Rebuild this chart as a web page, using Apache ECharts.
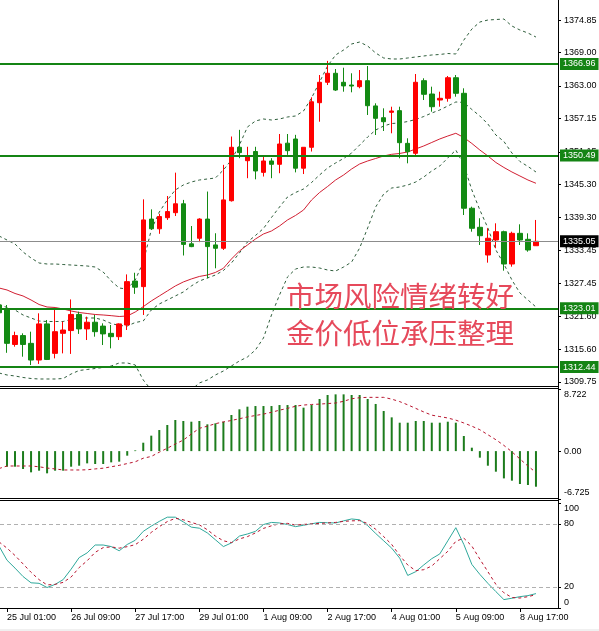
<!DOCTYPE html>
<html><head><meta charset="utf-8">
<script src="https://cdn.jsdelivr.net/npm/echarts@6/dist/echarts.min.js"></script>
<style>html,body{margin:0;padding:0;background:#f0f0f0;}#c{width:599px;height:629px;background:#fff;}</style>
</head><body><div id="c"></div>
<script>
// ---- data (bar index starts at -1; index 0 = 25 Jul 01:00, H4 bars) ----
const firstIndex = -1;
const tickLabels = ['25 Jul 01:00','26 Jul 09:00','27 Jul 17:00','29 Jul 01:00','1 Aug 09:00','2 Aug 17:00','4 Aug 01:00','5 Aug 09:00','8 Aug 17:00'];
const tickIndex = [0,8,16,24,32,40,48,56,64];
const priceTicks = [1309.75,1315.60,1321.60,1327.45,1333.45,1339.30,1345.30,1351.15,1357.15,1363.00,1369.00,1374.85];
const macdTicks = [-6.725,0,8.722];
const stochTicks = [0,20,80,100];
const levels = [1366.96,1350.49,1323.01,1312.44];
const lastPrice = 1335.05;

const open  = [1323.6,1322.7,1316.5,1318.1,1316.7,1313.7,1320.2,1314.9,1318.5,1319.0,1321.9,1319.3,1320.5,1319.8,1318.5,1317.9,1320.0,1327.9,1326.9,1339.05,1337.3,1339.3,1340.2,1341.8,1334.6,1335.6,1339.05,1334.4,1333.8,1342.35,1351.96,1349.55,1351.2,1347.45,1349.5,1348.9,1352.7,1353.45,1348.2,1351.96,1359.98,1363.65,1365.27,1363.65,1363.16,1362.86,1363.94,1359.4,1357.28,1358.25,1358.55,1352.67,1350.88,1363.94,1361.54,1360.46,1360.77,1364.47,1361.67,1341.0,1337.57,1332.59,1335.29,1336.78,1330.97,1336.49,1335.41,1334.26];
const close = [1322.2,1316.7,1318.1,1316.5,1313.7,1320.2,1313.8,1318.8,1319.1,1321.9,1319.3,1320.5,1318.8,1318.4,1317.9,1320.2,1327.8,1326.8,1338.9,1337.3,1339.5,1340.4,1341.8,1334.5,1334.1,1339.05,1334.1,1333.8,1342.5,1351.96,1351.0,1350.45,1347.7,1349.5,1348.9,1352.55,1351.35,1348.2,1351.96,1360.15,1363.65,1365.27,1362.26,1363.0,1362.98,1363.94,1359.44,1357.17,1356.56,1358.49,1352.79,1351.17,1363.65,1361.49,1359.26,1360.77,1364.47,1361.67,1341.0,1337.39,1336.06,1335.6,1336.78,1330.97,1336.49,1335.29,1333.49,1335.05];
const low   = [1321.8,1315.0,1316.1,1314.3,1312.8,1313.0,1313.7,1314.0,1314.9,1314.8,1318.4,1317.3,1317.9,1316.4,1315.8,1317.3,1319.1,1325.6,1321.8,1337.1,1336.4,1338.9,1339.6,1332.5,1334.0,1334.9,1328.4,1330.2,1333.5,1342.2,1350.0,1346.4,1346.2,1346.7,1346.4,1347.3,1350.6,1347.45,1347.15,1351.2,1356.56,1363.16,1362.1,1361.96,1361.85,1362.57,1357.77,1354.17,1354.89,1354.48,1349.98,1349.08,1350.58,1360.46,1358.36,1359.26,1360.16,1361.06,1339.78,1336.78,1334.39,1331.21,1333.8,1329.77,1330.49,1334.39,1333.18,1334.26];
const high  = [1324.2,1323.6,1318.8,1318.5,1318.8,1322.1,1320.9,1322.7,1320.6,1324.6,1322.4,1321.5,1321.8,1320.3,1320.0,1320.3,1329.1,1329.4,1342.6,1340.8,1340.0,1343.2,1347.4,1342.5,1337.8,1339.2,1344.0,1336.5,1348.8,1353.9,1355.1,1352.05,1352.05,1350.3,1350.0,1354.35,1354.35,1354.2,1352.0,1360.95,1364.96,1367.5,1366.04,1366.27,1365.27,1365.86,1366.58,1359.87,1358.97,1359.26,1359.26,1353.58,1365.14,1364.37,1362.86,1361.96,1364.78,1364.96,1362.57,1341.28,1339.2,1337.39,1338.29,1336.96,1336.78,1338.11,1336.49,1338.89];

const bbUpper = [1336.01,1335.29,1334.57,1333.13,1332.05,1331.15,1330.97,1330.97,1330.88,1330.79,1330.70,1330.61,1330.43,1329.53,1327.91,1326.65,1326.47,1328.09,1331.33,1337.09,1340.32,1342.48,1344.28,1345.18,1345.72,1346.08,1346.26,1346.44,1347.88,1349.67,1352.37,1355.61,1356.69,1357.05,1356.87,1357.05,1357.41,1357.59,1358.49,1360.82,1363.70,1366.58,1368.56,1369.46,1370.54,1370.89,1370.17,1368.92,1368.02,1367.84,1367.84,1368.02,1368.20,1368.38,1368.56,1368.65,1368.83,1368.74,1371.25,1373.23,1374.49,1374.85,1374.94,1375.03,1373.77,1373.05,1372.51,1371.79];
const bbMiddle = [1323.69,1323.15,1322.70,1321.80,1321.26,1320.72,1320.63,1320.63,1320.63,1320.99,1321.26,1321.26,1321.26,1320.90,1320.27,1319.91,1319.82,1320.45,1320.72,1322.70,1323.78,1324.50,1325.22,1325.94,1327.02,1327.91,1328.45,1328.99,1329.80,1331.15,1332.95,1334.93,1336.10,1337.36,1339.34,1341.22,1343.02,1343.83,1344.46,1345.63,1346.98,1348.24,1349.14,1349.95,1350.93,1352.37,1353.81,1355.07,1355.79,1356.24,1356.33,1356.60,1356.96,1357.50,1358.13,1358.67,1359.39,1360.11,1360.02,1358.76,1357.59,1356.15,1354.17,1353.01,1350.93,1349.41,1348.51,1347.52];
const bbLower = [1311.37,1311.01,1310.83,1310.56,1310.38,1310.29,1310.29,1310.29,1310.38,1311.19,1311.82,1312.00,1312.18,1312.36,1312.63,1313.17,1313.17,1312.81,1310.11,1308.32,1307.06,1306.52,1306.34,1306.70,1308.32,1309.58,1310.11,1311.01,1311.73,1312.63,1313.53,1314.25,1315.51,1317.67,1321.80,1325.40,1328.64,1330.07,1330.43,1330.43,1330.25,1329.89,1329.71,1330.43,1331.33,1333.85,1337.45,1341.22,1343.56,1344.64,1344.82,1345.18,1345.72,1346.62,1347.70,1348.60,1350.04,1351.47,1348.78,1344.28,1340.68,1337.45,1333.49,1330.97,1328.09,1325.76,1324.50,1323.24];
const maRed = [1326.66,1326.30,1325.67,1325.22,1324.50,1323.69,1323.24,1323.15,1322.88,1322.52,1322.25,1322.07,1321.89,1321.80,1321.68,1321.53,1321.62,1322.34,1323.30,1324.32,1325.22,1326.12,1327.02,1327.74,1328.28,1328.73,1328.99,1329.45,1330.20,1331.87,1333.31,1334.39,1335.47,1336.37,1336.91,1337.81,1338.89,1339.70,1340.68,1342.48,1343.83,1344.91,1346.08,1346.98,1348.06,1348.96,1349.50,1349.95,1350.40,1350.70,1350.85,1351.12,1351.66,1352.20,1352.83,1353.46,1353.99,1354.48,1353.72,1352.65,1351.47,1350.40,1349.23,1348.33,1347.52,1346.80,1346.08,1345.49];

const macdHist = [-2.2,-2.19,-2.19,-2.51,-2.98,-2.75,-3.12,-2.75,-2.75,-2.19,-2.05,-1.72,-1.81,-1.81,-1.58,-1.48,-0.64,0.1,1.18,2.17,2.96,3.67,4.37,4.23,4.13,4.23,3.76,3.90,4.13,5.07,5.87,6.24,6.33,6.33,6.33,6.47,6.47,6.47,6.10,6.47,7.32,7.88,7.97,7.97,7.88,7.88,7.32,6.62,5.63,4.74,3.99,3.99,4.23,4.23,3.99,3.99,4.13,3.99,2.12,0.48,-0.92,-2.05,-2.89,-3.83,-4.15,-4.62,-4.76,-5.00];
const macdSignal = [-2.45,-2.09,-2.09,-2.09,-2.09,-2.2,-2.38,-2.5,-2.65,-2.65,-2.65,-2.62,-2.5,-2.4,-2.2,-2.0,-1.75,-1.5,-1.0,-0.75,-0.15,0.4,1.0,1.55,2.4,3.2,3.5,3.85,4.1,4.3,4.55,4.8,5.0,5.2,5.45,5.75,6.0,6.3,6.47,6.55,6.6,6.68,6.75,7.0,7.35,7.5,7.55,7.55,7.55,7.3,6.95,6.5,6.0,5.5,5.05,4.85,4.65,4.35,3.95,3.5,3.0,2.3,1.6,0.8,-0.1,-1.1,-2.1,-3.0];
const stochK = [59,45.5,38,30,24,23.5,19.5,22.5,27,37,48,52.5,60,60,58.5,54.5,60.5,64.5,73,78,82.5,86.5,86.5,82,77,76,71.5,65,58.5,62,68.5,70.5,73,79.5,81.5,81,79.5,77.5,78.8,80.2,81.5,81.2,81,83,84.8,84,78.5,71,64,57,47.5,31,34.6,41,47,51.5,64,76.5,60.5,41.5,32,23.5,15.6,8,9.3,10.8,11.8,13.7];
const stochD = [63,57,50,42,34,27,22,22.5,24.4,29.5,38.5,45,53,57.5,58.2,57,58.4,60.3,65.5,72,77.5,82.3,85.4,84,81.5,79.2,74.5,68.5,64,62.3,65.8,68,71.5,75.8,78.3,80.2,80.6,79,79.6,80.1,80.6,81,81.5,82.5,83,83.2,80.5,75,68,60.5,50,41,35.5,36.5,40,47,54,63.5,66.5,59,46.5,34.6,22.5,14.5,10,9.5,10.8,12.7];
const noteLines = ['市场风险情绪转好','金价低位承压整理'];

// ---- build ----
const xy = arr => arr.map((v,i)=>[i+firstIndex, v]);
const candleData = open.map((o,i)=>[i+firstIndex, o, close[i], low[i], high[i]]);
const FONT = 'Liberation Sans';
const UP = '#ff0000', DOWN = '#138a13', LEVEL = '#148414';
const xMin = -0.875, xMax = 68.75;
const near = (a,b)=>Math.abs(a-b)<1e-6;

const chart = echarts.init(document.getElementById('c'), null, {renderer:'canvas'});
const baseY = (extra) => Object.assign({
  type:'value', position:'right',
  axisLine:{show:true, onZero:false, lineStyle:{color:'#000', width:1}},
  splitLine:{show:false}
}, extra);
const hiddenX = (g) => ({type:'value', gridIndex:g, min:xMin, max:xMax, show:false, axisLine:{onZero:false}, splitLine:{show:false}});

const lineS = (data, color, dash, xi, yi, extra) => Object.assign({
  type:'line', xAxisIndex:xi, yAxisIndex:yi, data:xy(data), symbol:'none', showSymbol:false,
  lineStyle:{color:color, width:1, type:dash}, z:3, silent:true
}, extra||{});

const option = {
  animation:false,
  backgroundColor:'#fff',
  grid:[
    {left:0, top:0, width:558, height:386, outerBoundsMode:'none'},
    {left:0, top:389, width:558, height:110, outerBoundsMode:'none'},
    {left:0, top:503, width:558, height:105, outerBoundsMode:'none'}
  ],
  xAxis:[
    hiddenX(0), hiddenX(1),
    {type:'value', gridIndex:2, min:xMin, max:xMax, splitLine:{show:false},
     axisLine:{show:true, onZero:false, lineStyle:{color:'#000'}},
     axisTick:{show:true, length:4, customValues:tickIndex, lineStyle:{color:'#000'}},
     axisLabel:{customValues:tickIndex, formatter:(v,i)=>tickLabels[tickIndex.indexOf(Math.round(v))],
       align:'left', color:'#000', fontFamily:FONT, fontSize:9, margin:5}}
  ],
  yAxis:[
    baseY({gridIndex:0, min:1309.03, max:1378.45,
      axisTick:{show:true, length:3, customValues:priceTicks, lineStyle:{color:'#000'}},
      axisLabel:{customValues:priceTicks, formatter:v=>v.toFixed(2), color:'#000', fontFamily:FONT, fontSize:9, margin:6}}),
    baseY({gridIndex:1, min:macdTicks[0], max:macdTicks[2],
      axisTick:{show:true, length:3, customValues:macdTicks, lineStyle:{color:'#000'}},
      axisLabel:{customValues:macdTicks, lineHeight:12, color:'#000', fontFamily:FONT, fontSize:9, margin:6,
        formatter:v=>{ if(near(v,0)) return '0.00'; const s=v.toFixed(3); return near(v,macdTicks[2]) ? '\n'+s : s+'\n'; }}}),
    baseY({gridIndex:2, min:0, max:100,
      axisTick:{show:true, length:3, customValues:stochTicks, lineStyle:{color:'#000'}},
      axisLabel:{customValues:stochTicks, lineHeight:11, color:'#000', fontFamily:FONT, fontSize:9, margin:6,
        formatter:v=>{ const s=String(Math.round(v)); if(near(v,100)) return '\n'+s; if(near(v,0)) return s+'\n'; return s; }}})
  ],
  series:[
    lineS(bbUpper, '#2f5e3c', [3,3], 0, 0),
    lineS(bbMiddle, '#2f5e3c', [3,3], 0, 0),
    lineS(bbLower, '#2f5e3c', [3,3], 0, 0),
    lineS(maRed, '#d11f32', 'solid', 0, 0),
    {type:'candlestick', xAxisIndex:0, yAxisIndex:0, data:candleData, barWidth:5, z:4, silent:true,
     itemStyle:{color:UP, color0:DOWN, borderColor:UP, borderColor0:DOWN, borderWidth:1},
     markLine:{silent:true, symbol:['none','none'], animation:false, z:6,
       label:{show:true, position:'end', distance:2, formatter:p=>p.value.toFixed(2), color:'#fff',
         fontFamily:FONT, fontSize:9, lineHeight:11, padding:[1,3,0,3], backgroundColor:LEVEL},
       lineStyle:{color:LEVEL, width:2, type:'solid'},
       data: levels.map(v=>({yAxis:v})).concat([{yAxis:lastPrice,
         lineStyle:{color:'#8c8c8c', width:1, type:'solid'},
         label:{backgroundColor:'#000', color:'#fff'}}])
     }},
    {type:'bar', xAxisIndex:1, yAxisIndex:1, data:xy(macdHist), barWidth:2, silent:true,
     itemStyle:{color:'#1c7c1c'}},
    lineS(macdSignal, '#b8142e', [3,3], 1, 1),
    lineS(stochK, '#2fa89b', 'solid', 2, 2, {
      markLine:{silent:true, symbol:['none','none'], animation:false, label:{show:false},
        lineStyle:{color:'#b0b0b0', width:1, type:[4,3]},
        data:[{yAxis:stochTicks[1]},{yAxis:stochTicks[2]}]}}),
    lineS(stochD, '#b8142e', [3,3], 2, 2)
  ],
  graphic:[
    {type:'line', z:50, shape:{x1:0,y1:386.5,x2:558,y2:386.5}, style:{stroke:'#000',lineWidth:1}},
    {type:'line', z:50, shape:{x1:0,y1:388.5,x2:558,y2:388.5}, style:{stroke:'#000',lineWidth:1}},
    {type:'line', z:50, shape:{x1:0,y1:498.5,x2:558,y2:498.5}, style:{stroke:'#000',lineWidth:1}},
    {type:'line', z:50, shape:{x1:0,y1:500.5,x2:558,y2:500.5}, style:{stroke:'#000',lineWidth:1}},
    {type:'line', z:50, shape:{x1:558.5,y1:0,x2:558.5,y2:608}, style:{stroke:'#000',lineWidth:1}},
    {type:'text', z:60, x:286, y:296, style:{text:noteLines[0], fill:'#e6495b', fontSize:28.5, fontFamily:'Noto Sans CJK SC', verticalAlign:'middle', align:'left'}},
    {type:'text', z:60, x:286, y:333, style:{text:noteLines[1], fill:'#e6495b', fontSize:28.5, fontFamily:'Noto Sans CJK SC', verticalAlign:'middle', align:'left'}}
  ]
};
chart.setOption(option);
</script>
</body></html>
